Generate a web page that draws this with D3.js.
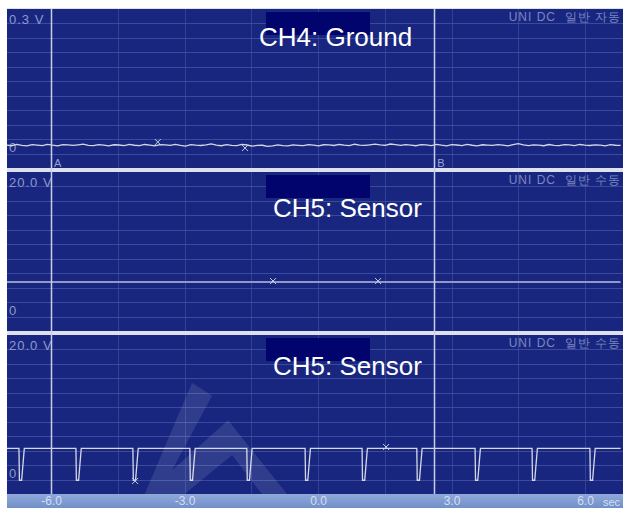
<!DOCTYPE html>
<html>
<head>
<meta charset="utf-8">
<script src="https://cdn.jsdelivr.net/npm/d3@7"></script>
<style>
  body { margin: 0; background: #fff; }
  svg { display: block; font-family: 'Liberation Sans', Arial, sans-serif; }
</style>
</head>
<body>
<script>
// ---- chart values ----
const channelTitles = ['CH4: Ground', 'CH5: Sensor', 'CH5: Sensor'];
const rangeLabels = ['0.3 V', '20.0 V', '20.0 V'];
const modeLabels = ['UNI DC  일반 자동', 'UNI DC  일반 수동', 'UNI DC  일반 수동'];
const rangeMax = [0.3, 20, 20];

const timeTicks = [-6, -3, 0, 3, 6];
const gridTimes = [-6, -4.5, -3, -1.5, 0, 1.5, 3, 4.5, 6];
const timeStart = -7.0;
const timeEnd = 6.8;

const cursorNames = ['A', 'B'];
const cursorTimes = [-6.0, 2.61];

// CH4 ground noise, mV, one sample every 0.115 s from timeStart
const ch4Step = 0.115;
const ch4MilliVolts = [
  17.8, 16.2, 18.9, 17.1, 15.8, 18.4, 17.6, 16.5, 19.2, 17.3, 16.1, 18.7, 17.9, 16.8, 18.1, 19.4, 17.0, 16.3, 18.6, 17.4,
  15.9, 18.2, 17.7, 16.6, 19.0, 17.2, 16.4, 18.8, 17.5, 16.0, 18.3, 17.8, 16.9, 19.1, 17.1, 15.6, 18.5, 17.3, 16.7, 18.0,
  20.1, 17.6, 16.2, 18.4, 17.0, 16.5, 18.9, 17.7, 15.4, 16.8, 17.2, 14.9, 16.1, 18.0, 16.6, 15.8, 17.9, 17.1, 16.3, 18.6,
  17.4, 16.0, 18.2, 17.8, 16.7, 18.8, 17.3, 16.4, 19.3, 17.6, 16.9, 18.1, 19.5, 18.0, 17.2, 19.8, 18.4, 16.8, 18.7, 17.5,
  16.2, 18.3, 17.9, 16.6, 19.0, 17.4, 16.1, 18.5, 17.7, 16.5, 18.9, 17.2, 16.0, 18.2, 17.6, 16.8, 18.6, 17.3, 15.9, 18.4,
  20.6, 17.8, 16.4, 18.1, 17.5, 16.2, 18.7, 17.0, 16.6, 18.3, 17.9, 16.3, 18.8, 17.4, 16.7, 18.0, 17.6, 16.1, 18.5, 17.2, 16.9
];

// CH5 (middle) flat sensor level, V
const ch5FlatVolts = 4.78;

// CH5 (bottom) square wave: high level, low level, start of each dip (s)
const ch5HighVolts = 4.3;
const ch5LowVolts = -0.1;
const ch5DipTimes = [-6.72, -5.44, -4.16, -2.88, -1.60, -0.29, 0.99, 2.22, 3.53, 4.81, 6.11];

// "x" markers per panel: [time, volts]
const markerPoints = [
  [[-3.60, 0.0239], [-1.64, 0.0114]],
  [[-1.01, 4.91], [1.35, 4.91]],
  [[-4.11, -0.2], [1.53, 4.5]]
];

// faint logo watermark in the bottom panel, [time, volts]
const watermarkPoints = [
  [-3.95, -2.8], [-2.83, 13.4], [-2.38, 11.6], [-3.28, 1.3], [-2.02, 8.2],
  [-0.45, -3.9], [-1.03, -3.9], [-1.93, 3.4], [-3.37, -3.9]
];

// ---- drawing ----
const createScope = () => {
  const svgWidth = 627;
  const svgHeight = 508;
  const screenLeft = 7;
  const screenRight = 623;
  const screenTop = 9;
  const panelHeight = 159;
  const panelGap = 4;
  const axisBarTop = screenTop + 3 * panelHeight + 2 * panelGap;

  const svg = d3.select('body')
                .append('svg')
                .attr('width', svgWidth)
                .attr('height', svgHeight);

  const xScale = d3.scaleLinear()
                   .domain([-6, 6])
                   .range([51, 585]);

  // separators between panels
  svg.append('rect')
     .attr('x', screenLeft)
     .attr('y', screenTop - 1)
     .attr('width', screenRight - screenLeft)
     .attr('height', axisBarTop - screenTop + 1)
     .attr('fill', '#dde1ee');

  const lineGen = (yScale) => d3.line()
                                .x((d) => xScale(d[0]))
                                .y((d) => yScale(d[1]));

  rangeMax.forEach((r, i) => {
    const top = screenTop + i * (panelHeight + panelGap);
    const yScale = d3.scaleLinear()
                     .domain([-r / 10, r])
                     .range([top + panelHeight, top]);

    const g = svg.append('g').attr('class', 'panel');

    const clipId = 'clip' + i;
    svg.append('clipPath')
       .attr('id', clipId)
       .append('rect')
       .attr('x', screenLeft)
       .attr('y', top)
       .attr('width', screenRight - screenLeft)
       .attr('height', panelHeight);

    g.append('rect')
     .attr('x', screenLeft)
     .attr('y', top)
     .attr('width', screenRight - screenLeft)
     .attr('height', panelHeight)
     .attr('fill', '#19267f');

    // horizontal grid
    g.selectAll('line.hgrid')
     .data(d3.range(0, 10).map((j) => r * j / 10))
     .enter()
     .append('line')
     .attr('class', 'hgrid')
     .attr('x1', screenLeft)
     .attr('x2', screenRight)
     .attr('y1', (d) => Math.round(yScale(d)) + 0.5)
     .attr('y2', (d) => Math.round(yScale(d)) + 0.5)
     .attr('stroke', '#5569b8')
     .attr('stroke-opacity', 0.55);

    // vertical grid
    g.selectAll('line.vgrid')
     .data(gridTimes)
     .enter()
     .append('line')
     .attr('class', 'vgrid')
     .attr('x1', (d) => Math.round(xScale(d)) + 0.5)
     .attr('x2', (d) => Math.round(xScale(d)) + 0.5)
     .attr('y1', top)
     .attr('y2', top + panelHeight)
     .attr('stroke', '#4a5eae')
     .attr('stroke-opacity', 0.5);

    // title box and title
    g.append('rect')
     .attr('x', 266)
     .attr('y', top + 3)
     .attr('width', 104)
     .attr('height', 23)
     .attr('fill', '#02046e');

    g.append('text')
     .attr('x', i === 0 ? 259 : 273)
     .attr('y', top + [37, 45, 40][i])
     .attr('fill', '#ffffff')
     .attr('font-size', 26)
     .text(channelTitles[i]);

    g.append('text')
     .attr('x', 9)
     .attr('y', top + 15)
     .attr('fill', '#8f98cc')
     .attr('font-size', 13)
     .attr('letter-spacing', 1)
     .text(rangeLabels[i]);

    g.append('text')
     .attr('x', 9)
     .attr('y', yScale(0) - 2)
     .attr('fill', '#8f98cc')
     .attr('font-size', 13)
     .text('0');

    g.append('text')
     .attr('x', 621)
     .attr('y', top + 12)
     .attr('text-anchor', 'end')
     .attr('fill', '#7d87c2')
     .attr('font-size', 12)
     .attr('letter-spacing', 1)
     .attr('xml:space', 'preserve')
     .text(modeLabels[i]);

    // traces
    let trace;
    if (i === 0) {
      trace = ch4MilliVolts.map((v, k) => [timeStart + k * ch4Step, v / 1000]);
    } else if (i === 1) {
      trace = [[timeStart, ch5FlatVolts], [timeEnd, ch5FlatVolts]];
    } else {
      trace = [[timeStart, ch5HighVolts]];
      ch5DipTimes.forEach((t) => {
        trace.push([t, ch5HighVolts]);
        trace.push([t + 0.01, ch5LowVolts]);
        trace.push([t + 0.06, ch5LowVolts]);
        trace.push([t + 0.12, ch5HighVolts]);
      });
      trace.push([timeEnd, ch5HighVolts]);
    }

    g.append('path')
     .datum(trace)
     .attr('clip-path', 'url(#' + clipId + ')')
     .attr('fill', 'none')
     .attr('stroke', i === 1 ? '#9098c4' : '#d4d8e6')
     .attr('stroke-width', i === 1 ? 2 : 1.3)
     .attr('d', lineGen(yScale));

    g.selectAll('path.marker')
     .data(markerPoints[i])
     .enter()
     .append('path')
     .attr('class', 'marker')
     .attr('transform', (d) => 'translate(' + xScale(d[0]) + ',' + yScale(d[1]) + ')')
     .attr('d', 'M-3,-3L3,3M-3,3L3,-3')
     .attr('stroke', '#c8cce0')
     .attr('stroke-width', 1);

    if (i === 2) {
      g.append('path')
       .datum(watermarkPoints)
       .attr('fill', '#ffffff')
       .attr('fill-opacity', 0.1)
       .attr('d', (d) => lineGen(yScale)(d) + 'Z');
    }

    if (i === 0) {
      g.selectAll('text.cursor')
       .data(cursorTimes)
       .enter()
       .append('text')
       .attr('class', 'cursor')
       .attr('x', (d) => xScale(d) + 3)
       .attr('y', top + panelHeight - 1)
       .attr('fill', '#9aa2d2')
       .attr('font-size', 11)
       .text((d, k) => cursorNames[k]);
    }
  });

  // time axis bar
  const barGrad = svg.append('defs')
                     .append('linearGradient')
                     .attr('id', 'bar')
                     .attr('x1', 0).attr('y1', 0)
                     .attr('x2', 0).attr('y2', 1);
  barGrad.append('stop').attr('offset', 0).attr('stop-color', '#8fa9da');
  barGrad.append('stop').attr('offset', 1).attr('stop-color', '#7190c8');

  svg.append('clipPath')
     .attr('id', 'barClip')
     .append('rect')
     .attr('x', screenLeft)
     .attr('y', axisBarTop)
     .attr('width', screenRight - screenLeft)
     .attr('height', svgHeight - axisBarTop);

  svg.append('rect')
     .attr('x', screenLeft)
     .attr('y', axisBarTop)
     .attr('width', screenRight - screenLeft)
     .attr('height', svgHeight - axisBarTop)
     .attr('fill', 'url(#bar)');

  const xAxis = d3.axisBottom(xScale)
                  .tickValues(timeTicks)
                  .tickSize(0)
                  .tickPadding(2)
                  .tickFormat((d) => d.toFixed(1));

  const axisG = svg.append('g')
                   .attr('id', 'x-axis')
                   .attr('transform', 'translate(0,' + axisBarTop + ')')
                   .call(xAxis);
  axisG.select('.domain').remove();
  axisG.selectAll('text')
       .attr('fill', '#d4def5')
       .attr('font-size', 12)
       .attr('font-family', "'Liberation Sans', Arial, sans-serif");

  svg.append('text')
     .attr('clip-path', 'url(#barClip)')
     .attr('x', 603)
     .attr('y', 506)
     .attr('fill', '#d4def5')
     .attr('font-size', 11)
     .text('sec');

  // cursors A and B across all panels
  svg.selectAll('line.cursor')
     .data(cursorTimes)
     .enter()
     .append('line')
     .attr('class', 'cursor')
     .attr('x1', (d) => Math.round(xScale(d)) + 0.5)
     .attr('x2', (d) => Math.round(xScale(d)) + 0.5)
     .attr('y1', screenTop)
     .attr('y2', axisBarTop)
     .attr('stroke', '#c9cee8')
     .attr('stroke-width', 1.5);
};

createScope();
</script>
</body>
</html>
